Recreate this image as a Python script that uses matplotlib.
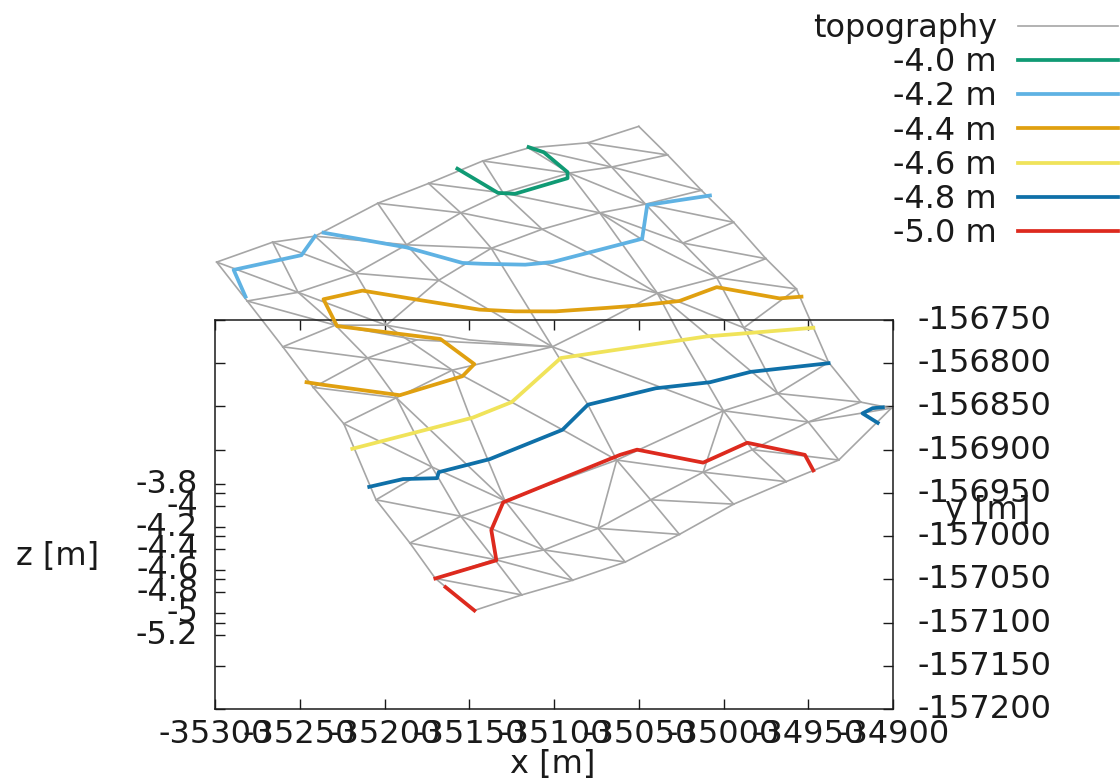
import matplotlib
matplotlib.use("Agg")
import matplotlib.pyplot as plt
from matplotlib.transforms import ScaledTranslation

NODE_X = [-35299,-35266,-35241,-35204,-35174,-35142,-35115,-35080,-35050,
          -35281,-35251,-35217,-35187,-35155,-35130,-35091,-35066,-35033,
          -35260,-35229,-35199,-35168,-35137,-35107,-35073,-35046,-35013,
          -35242,-35210,-35181,-35024,-34994,
          -35224,-35193,-35160,-35101,-35069,-35039,-35004,-34975,
          -35205,-35172,-34988,-34957,
          -35185,-35155,-35129,-35063,-35000,-34968,-34938,
          -35170,-35135,-35106,-35074,-35043,-35012,-34983,-34950,-34919,
          -35147,-35119,-35089,-35058,-35026,-34994,-34963,-34932,-34901,
          -35150,-35079,-35079,-35048,-35125,-35095,-35080,-35150,-35049,-35026]
NODE_Y = [-156683,-156660,-156653,-156615,-156592,-156566,-156551,-156545,-156526,
          -156728,-156718,-156696,-156663,-156626,-156603,-156580,-156573,-156559,
          -156781,-156756,-156756,-156704,-156667,-156645,-156626,-156616,-156600,
          -156828,-156794,-156773,-156661,-156637,
          -156870,-156840,-156808,-156781,-156750,-156719,-156701,-156679,
          -156958,-156920,-156759,-156714,
          -157008,-156977,-156959,-156912,-156855,-156835,-156799,
          -157049,-157027,-157016,-156991,-156958,-156926,-156900,-156868,-156845,
          -157086,-157068,-157051,-157030,-156998,-156963,-156937,-156912,-156852,
          -156773,-156700,-156673,-156657,-156845,-156877,-156848,-156860,-156819,-156767]
MESH_PATHS = [
    [0,1,2,3,4,5,6,7,8],[9,10,11,12,13,14,15,16,17],[18,19,20,21,22,23,24,25,26],
    [27,28,29],[30,31],[32,33,34,35,36,37,38,39],[40,41],[42,43],
    [44,45,46,47,48,49,50],[51,52,53,54,55,56,57,58,59],[60,61,62,63,64,65,66,67,68],
    [0,9,18,27,32,40,44,51,60],[1,10,19,28,33,41,45,52,61],[2,11,20,34,76,46,53,62],
    [3,12,21],[4,13,22,35,75,47,55,64],[47,54,63],[5,14,23],[6,15,24,37,78,48,57,66],
    [48,56,65],[7,16,25,30,38,42,49,58,67],[8,17,26,31,39,43,50,59,68],
    [0,10,20,69,35],[9,19,29,35],[1,11,21,35,77,48,58,68],[2,12,22,70,37,42,50],
    [3,13,23,71,37],[4,14,24,30,39],[5,15,25,31],[6,16,26],[7,17],
    [18,28,34,73,74,47,56,66],[27,33,46],[32,41,46,54,64],[40,45,53,63],[44,52,62],
    [51,61],[24,72,38,43],[55,65],[57,67],[49,59],[37,49],
]

C40_X = [[-35157,-35133,-35123,-35092,-35092,-35106,-35115]]
C40_Y = [[-156575,-156603,-156604,-156586,-156579,-156556,-156550]]
C42_X = [[-35282,-35289,-35249,-35241],
         [-35236,-35187,-35154,-35142,-35117,-35101,-35048,-35045,-35008]]
C42_Y = [[-156723,-156692,-156675,-156653],
         [-156649,-156666,-156684,-156685,-156686,-156683,-156656,-156617,-156606]]
C44_X = [[-34954,-34967,-35004,-35026,-35049,-35069,-35099,-35123,-35144,-35179,
          -35213,-35236,-35228,-35167,-35147,-35154,-35191,-35236,-35246]]
C44_Y = [[-156723,-156725,-156712,-156728,-156733,-156736,-156740,-156740,-156738,-156727,
          -156716,-156726,-156757,-156772,-156801,-156815,-156837,-156825,-156822]]
C46_X = [[-35219,-35148,-35125,-35096,-35010,-34947]]
C46_Y = [[-156899,-156863,-156845,-156794,-156769,-156759]]
C48_X = [[-35209,-35189,-35169,-35168,-35138,-35095,-35080,-35040,-35008,-34984,-34938],
         [-34906,-34912,-34918,-34909]]
C48_Y = [[-156943,-156934,-156933,-156926,-156911,-156877,-156848,-156829,-156822,-156810,-156800],
         [-156851,-156852,-156858,-156869]]
C50_X = [[-35147,-35164],
         [-35170,-35134,-35137,-35130,-35061,-35051,-35012,-34986,-34952,-34947]]
C50_Y = [[-157086,-157059],
         [-157049,-157028,-156993,-156961,-156906,-156900,-156915,-156892,-156906,-156924]]

CONTOUR_LABELS = ["-4.0 m","-4.2 m","-4.4 m","-4.6 m","-4.8 m","-5.0 m"]
CONTOUR_COLORS = ["#109a74","#5fb2e3","#e0a010","#f0e35a","#0f70a8","#dd2a1e"]
X_TICKS = [-35300,-35250,-35200,-35150,-35100,-35050,-35000,-34950,-34900]
Y_TICKS = [-156750,-156800,-156850,-156900,-156950,-157000,-157050,-157100,-157150,-157200]
Z_TICKS = [-3.8,-4.0,-4.2,-4.4,-4.6,-4.8,-5.0,-5.2]
Z_TICK_LABELS = ["-3.8","-4","-4.2","-4.4","-4.6","-4.8","-5","-5.2"]

FS = 23
W, H = 1120, 780
fig = plt.figure(figsize=(W/100, H/100), dpi=100)
ax = fig.add_axes([215/W, (H-709)/H, 678/W, 389/H])
ax.set_xlim(-35300, -34900)
ax.set_ylim(-157200, -156750)
ax.set_autoscale_on(False)

for k, path in enumerate(MESH_PATHS):
    ax.plot([NODE_X[i] for i in path], [NODE_Y[i] for i in path], color="#a6a6a6",
            lw=1.2, clip_on=False, zorder=2, label="topography" if k == 0 else None)

sets = [(C40_X,C40_Y),(C42_X,C42_Y),(C44_X,C44_Y),(C46_X,C46_Y),(C48_X,C48_Y),(C50_X,C50_Y)]
for (xs, ys), lab, col in zip(sets, CONTOUR_LABELS, CONTOUR_COLORS):
    for k, (xx, yy) in enumerate(zip(xs, ys)):
        ax.plot(xx, yy, color=col, lw=2.7, clip_on=False, zorder=3,
                label=lab if k == 0 else None)

axz = ax.twinx()
axz.set_ylim(-3.8-(709-484)/107.9, -3.8+(484-320)/107.9)
axz.set_yticks(Z_TICKS)
axz.set_yticklabels(Z_TICK_LABELS, fontsize=FS)
axz.yaxis.tick_left()
axz.tick_params(axis="y", direction="in", left=True, right=False, labelleft=True, labelright=False,
                length=7, width=1, pad=12, colors="#1a1a1a")
for s in axz.spines.values():
    s.set_visible(False)
axz.set_zorder(0)
ax.set_zorder(1)
ax.patch.set_visible(False)

ax.set_xticks(X_TICKS)
ax.set_xticklabels([str(v) for v in X_TICKS], fontsize=FS)
ax.set_yticks(Y_TICKS)
ax.set_yticklabels([str(v) for v in Y_TICKS], fontsize=FS)
ax.tick_params(axis="x", direction="in", top=True, bottom=True, length=7, width=1, pad=7, colors="#1a1a1a")
ax.tick_params(axis="y", direction="in", left=True, right=True, labelleft=False, labelright=True,
               length=7, width=1, pad=18, colors="#1a1a1a")
for s in ax.spines.values():
    s.set_linewidth(1.1)
    s.set_color("#1a1a1a")

up = ScaledTranslation(0, 3/100, fig.dpi_scale_trans)
for lbl in ax.get_yticklabels() + axz.get_yticklabels():
    lbl.set_transform(lbl.get_transform() + up)

fig.text(553/W, 1-765/H, "x [m]", fontsize=FS, ha="center", va="center", color="#1a1a1a")
fig.text(988/W, 1-510/H, "y [m]", fontsize=FS, ha="center", va="center", color="#1a1a1a")
fig.text(58/W, 1-557/H, "z [m]", fontsize=FS, ha="center", va="center", color="#1a1a1a")

leg = ax.legend(loc="upper right", bbox_to_anchor=(1118/W, 1-13/H), bbox_transform=fig.transFigure,
                frameon=False, fontsize=FS, markerfirst=False, handlelength=3.13, handletextpad=0.66,
                labelspacing=0.1, borderpad=0, borderaxespad=0)
for t in leg.get_texts():
    t.set_color("#1a1a1a")
fig.savefig("out.png", dpi=100)
